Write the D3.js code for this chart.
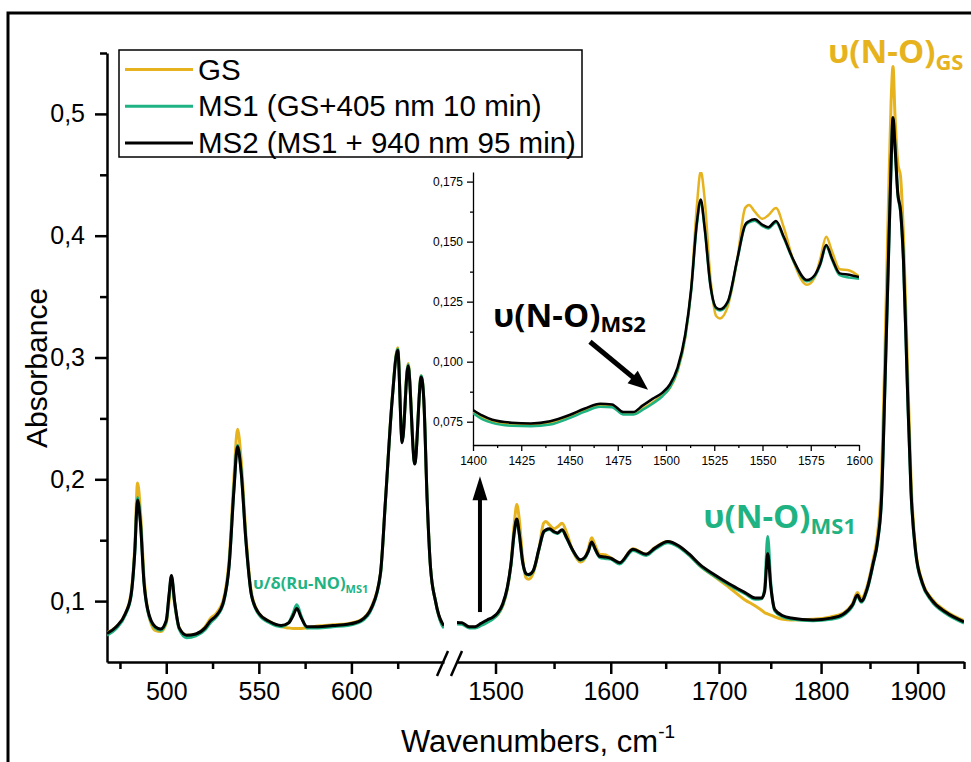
<!DOCTYPE html>
<html>
<head>
<meta charset="utf-8">
<script src="https://cdnjs.cloudflare.com/ajax/libs/d3/7.8.5/d3.min.js"></script>
<style>
  body { margin: 0; background: #fff; }
  text { font-family: "Liberation Sans", Arial, sans-serif; }
  .note { font-family: "Open Sans", sans-serif; font-weight: bold; }
</style>
</head>
<body>
<div id="chart-area"></div>
<script>
let seriesNames = ["GS", "MS1 (GS+405 nm 10 min)", "MS2 (MS1 + 940 nm 95 min)"];
let seriesColors = ["#e6b31e", "#1fb383", "#000000"];

// low wavenumber part, cm-1
let lowWn = [468, 473, 478, 481, 483, 484.5, 486, 488, 490, 494, 497, 500, 501.5, 502.8, 504.5,
  507, 511, 516, 521, 524, 527, 531, 534, 536.5, 538.5, 540.5, 543, 546, 550, 556, 562, 566,
  568.5, 570.5, 573, 576, 582, 590, 598, 605, 611, 615.7, 618.4, 622, 625, 627.4, 630.6, 634.2,
  637.7, 639.1, 640.9, 642.7, 645.4, 649, 650];
let lowGS = [0.074, 0.079, 0.09, 0.107, 0.145, 0.197, 0.175, 0.12, 0.093, 0.076, 0.075, 0.082,
  0.1, 0.118, 0.098, 0.078, 0.072, 0.073, 0.079, 0.086, 0.09, 0.102, 0.135, 0.2, 0.241, 0.215,
  0.155, 0.107, 0.09, 0.083, 0.079, 0.078, 0.0775, 0.0775, 0.0775, 0.078, 0.0795, 0.0805, 0.0815,
  0.0845, 0.096, 0.123, 0.183, 0.266, 0.308, 0.232, 0.295, 0.214, 0.285, 0.265, 0.183, 0.128,
  0.1, 0.081, 0.079];
let lowMS1 = [0.072, 0.0775, 0.089, 0.104, 0.14, 0.185, 0.167, 0.115, 0.092, 0.078, 0.076, 0.083,
  0.104, 0.12, 0.099, 0.077, 0.07, 0.0715, 0.0765, 0.0825, 0.087, 0.099, 0.13, 0.191, 0.228,
  0.206, 0.15, 0.105, 0.089, 0.082, 0.079, 0.082, 0.09, 0.097, 0.087, 0.078, 0.078, 0.079, 0.08,
  0.083, 0.094, 0.122, 0.182, 0.265, 0.307, 0.231, 0.294, 0.213, 0.285, 0.266, 0.184, 0.128,
  0.1, 0.08, 0.078];
let lowMS2 = [0.0735, 0.079, 0.09, 0.105, 0.14, 0.183, 0.165, 0.115, 0.093, 0.079, 0.077, 0.084,
  0.105, 0.121, 0.1, 0.078, 0.072, 0.073, 0.078, 0.084, 0.088, 0.1, 0.13, 0.19, 0.227, 0.205,
  0.15, 0.105, 0.09, 0.083, 0.08, 0.082, 0.088, 0.094, 0.086, 0.079, 0.079, 0.08, 0.081, 0.084,
  0.095, 0.123, 0.183, 0.265, 0.306, 0.23, 0.293, 0.2125, 0.284, 0.265, 0.183, 0.128, 0.1,
  0.082, 0.08];

// high wavenumber part (also used by the inset), cm-1
let highWn = [1400, 1405, 1410, 1420, 1430, 1440, 1450, 1458, 1466, 1472, 1478, 1483, 1488, 1493,
  1498, 1502, 1506, 1510, 1513, 1516, 1518, 1520, 1523, 1526, 1528, 1532, 1537, 1541, 1543, 1546,
  1550, 1553, 1557, 1561, 1566, 1573, 1577, 1580, 1583, 1586, 1590, 1595, 1600, 1608, 1620, 1632,
  1640, 1652, 1662, 1672, 1682, 1695, 1710, 1725, 1735, 1741, 1744, 1747, 1750, 1754, 1762, 1770,
  1792, 1810, 1822, 1832, 1837, 1841, 1847, 1853, 1858, 1862, 1866, 1869, 1872, 1874, 1876, 1879,
  1882, 1885, 1889, 1893, 1898, 1905, 1915, 1930, 1950];
let highGS = [0.079, 0.0768, 0.0752, 0.074, 0.0738, 0.0746, 0.0772, 0.08, 0.082, 0.0817, 0.0785,
  0.0785, 0.0805, 0.083, 0.086, 0.089, 0.096, 0.11, 0.13, 0.165, 0.1793, 0.168, 0.135, 0.119,
  0.118, 0.123, 0.143, 0.164, 0.1653, 0.1625, 0.1595, 0.161, 0.164, 0.156, 0.142, 0.132, 0.135,
  0.143, 0.152, 0.146, 0.1385, 0.138, 0.1355, 0.1315, 0.143, 0.1385, 0.144, 0.149, 0.145, 0.138,
  0.129, 0.1205, 0.111, 0.101, 0.096, 0.0925, 0.0905, 0.0895, 0.0885, 0.087, 0.085, 0.0845,
  0.085, 0.087, 0.09, 0.098, 0.107, 0.102, 0.112, 0.133, 0.156, 0.2, 0.32, 0.42, 0.51, 0.539,
  0.5, 0.46, 0.448, 0.4, 0.3, 0.2, 0.142, 0.116, 0.102, 0.092, 0.084];
let highMS1 = [0.0785, 0.076, 0.0745, 0.0733, 0.0731, 0.0738, 0.0765, 0.0792, 0.0812, 0.081,
  0.078, 0.078, 0.08, 0.0825, 0.0855, 0.0892, 0.0965, 0.1105, 0.129, 0.157, 0.1665, 0.1555,
  0.1315, 0.122, 0.1213, 0.1245, 0.1425, 0.1565, 0.158, 0.1587, 0.1565, 0.1555, 0.158, 0.1515,
  0.142, 0.1335, 0.1355, 0.1405, 0.148, 0.1425, 0.136, 0.135, 0.1345, 0.1305, 0.1415, 0.1375,
  0.1425, 0.148, 0.1445, 0.1375, 0.129, 0.121, 0.113, 0.106, 0.1015, 0.102, 0.11, 0.153, 0.115,
  0.092, 0.087, 0.0852, 0.0838, 0.085, 0.088, 0.096, 0.104, 0.099, 0.109, 0.129, 0.149, 0.184,
  0.288, 0.373, 0.458, 0.496, 0.474, 0.434, 0.419, 0.379, 0.279, 0.189, 0.139, 0.114, 0.1, 0.09,
  0.082];
let highMS2 = [0.0799, 0.0775, 0.0758, 0.0746, 0.0743, 0.0752, 0.0778, 0.0805, 0.0825, 0.0822,
  0.079, 0.079, 0.0818, 0.0845, 0.087, 0.0905, 0.0975, 0.1115, 0.13, 0.158, 0.1675, 0.156, 0.132,
  0.1225, 0.1218, 0.125, 0.143, 0.157, 0.1585, 0.1593, 0.157, 0.156, 0.1586, 0.152, 0.1424,
  0.134, 0.136, 0.141, 0.1486, 0.143, 0.1368, 0.1362, 0.1352, 0.1315, 0.1425, 0.1385, 0.1435,
  0.149, 0.1455, 0.1385, 0.13, 0.122, 0.114, 0.107, 0.1025, 0.1025, 0.108, 0.139, 0.112, 0.093,
  0.088, 0.0862, 0.0845, 0.086, 0.089, 0.097, 0.105, 0.1, 0.11, 0.13, 0.15, 0.185, 0.29, 0.375,
  0.46, 0.497, 0.475, 0.435, 0.42, 0.38, 0.28, 0.19, 0.14, 0.115, 0.101, 0.091, 0.083];

let yTicks = [0.1, 0.2, 0.3, 0.4, 0.5];
let yMinor = [0.15, 0.25, 0.35, 0.45, 0.55];
let lowTicks = [500, 550, 600];
let lowMinor = [475, 525, 575, 625];
let highTicks = [1500, 1600, 1700, 1800, 1900];
let highMinor = [1550, 1650, 1750, 1850, 1950];
let insetXTicks = [1400, 1425, 1450, 1475, 1500, 1525, 1550, 1575, 1600];
let insetYTicks = [0.075, 0.1, 0.125, 0.15, 0.175];

let width = 971, height = 762;

let svg = d3.select("#chart-area")
  .append("svg")
  .attr("width", width)
  .attr("height", height)
  .style("display", "block")
  .style("background", "#fff");

// outer frame (only top and left are visible)
svg.append("path")
  .attr("d", "M8," + height + "V13H" + width)
  .attr("fill", "none")
  .attr("stroke", "#000")
  .attr("stroke-width", 3);

let y = d3.scaleLinear().domain([0.05, 0.55]).range([662, 53]);
let xLow = d3.scaleLinear().domain([468, 650]).range([107, 444]);
let xHigh = d3.scaleLog().domain([1468, 1950]).range([457, 964]);
let xIn = d3.scaleLinear().domain([1400, 1600]).range([473, 859]);
let yIn = d3.scaleLinear().domain([0.0653, 0.179]).range([445, 172]);

let series = seriesNames.map(function(name, i) {
  let lowVals = [lowGS, lowMS1, lowMS2][i];
  let highVals = [highGS, highMS1, highMS2][i];
  return {
    name: name,
    color: seriesColors[i],
    low: lowWn.map(function(w, j) { return [w, lowVals[j]]; }),
    high: highWn.map(function(w, j) { return [w, highVals[j]]; })
  };
});

let comma = function(fmt) {
  return function(d) { return d3.format(fmt)(d).replace(".", ","); };
};

function drawAxis(axis, tx, ty, fontSize, width, minor) {
  let g = svg.append("g")
    .attr("transform", "translate(" + tx + "," + ty + ")")
    .call(axis);
  g.select(".domain").attr("stroke-width", width).style("display", minor ? "none" : null);
  g.selectAll(".tick line").attr("stroke-width", width);
  g.selectAll(".tick text").attr("fill", "#000").style("font-size", fontSize + "px")
    .style("font-family", "'Liberation Sans', Arial, sans-serif");
  return g;
}

// main axes
drawAxis(d3.axisLeft(y).tickValues(yTicks).tickSize(12).tickPadding(10).tickSizeOuter(0)
  .tickFormat(comma(".1f")), 107, 0, 25, 2.5);
drawAxis(d3.axisLeft(y).tickValues(yMinor).tickSize(7).tickFormat(""), 107, 0, 25, 2.5, true);
drawAxis(d3.axisBottom(xLow).tickValues(lowTicks).tickSize(12).tickPadding(8).tickSizeOuter(0),
  0, 662, 25, 2.5);
drawAxis(d3.axisBottom(xLow).tickValues(lowMinor).tickSize(7).tickFormat(""), 0, 662, 25, 2.5, true);
drawAxis(d3.axisBottom(xHigh).tickValues(highTicks).tickSize(12).tickPadding(8).tickSizeOuter(0)
  .tickFormat(d3.format("d")), 0, 662, 25, 2.5);
drawAxis(d3.axisBottom(xHigh).tickValues(highMinor).tickSize(7).tickFormat(""), 0, 662, 25, 2.5, true);

// axis break marks
[0, 14].forEach(function(off) {
  svg.append("line")
    .attr("x1", 437 + off).attr("y1", 676)
    .attr("x2", 448 + off).attr("y2", 651)
    .attr("stroke", "#000")
    .attr("stroke-width", 2.5);
});

// clips
let defs = svg.append("defs");
defs.append("clipPath").attr("id", "clip-low").append("rect")
  .attr("x", 107).attr("y", 53).attr("width", 337).attr("height", 609);
defs.append("clipPath").attr("id", "clip-high").append("rect")
  .attr("x", 457).attr("y", 53).attr("width", 507).attr("height", 609);
defs.append("clipPath").attr("id", "clip-inset").append("rect")
  .attr("x", 473).attr("y", 172).attr("width", 386).attr("height", 273);

let lineLow = d3.line()
  .x(function(d) { return xLow(d[0]); })
  .y(function(d) { return y(d[1]); })
  .curve(d3.curveMonotoneX);
let lineHigh = d3.line()
  .x(function(d) { return xHigh(d[0]); })
  .y(function(d) { return y(d[1]); })
  .curve(d3.curveMonotoneX);
let lineIn = d3.line()
  .x(function(d) { return xIn(d[0]); })
  .y(function(d) { return yIn(d[1]); })
  .curve(d3.curveMonotoneX);

let plot = svg.append("g");
plot.selectAll(".low")
  .data(series)
  .enter()
  .append("path")
  .attr("clip-path", "url(#clip-low)")
  .attr("d", function(d) { return lineLow(d.low); })
  .attr("fill", "none")
  .attr("stroke", function(d) { return d.color; })
  .attr("stroke-width", 3)
  .attr("stroke-linejoin", "round");
plot.selectAll(".high")
  .data(series)
  .enter()
  .append("path")
  .attr("clip-path", "url(#clip-high)")
  .attr("d", function(d) { return lineHigh(d.high.filter(function(p) { return p[0] >= 1460; })); })
  .attr("fill", "none")
  .attr("stroke", function(d) { return d.color; })
  .attr("stroke-width", 3)
  .attr("stroke-linejoin", "round");

// inset
drawAxis(d3.axisLeft(yIn).tickValues(insetYTicks).tickSize(6).tickPadding(4).tickSizeOuter(0)
  .tickFormat(comma(".3f")), 473, 0, 12, 1.3);
drawAxis(d3.axisLeft(yIn).tickValues([0.0875, 0.1125, 0.1375, 0.1625]).tickSize(3).tickFormat(""),
  473, 0, 12, 1.3, true);
drawAxis(d3.axisBottom(xIn).tickValues(insetXTicks).tickSize(6).tickPadding(5).tickSizeOuter(0)
  .tickFormat(d3.format("d")), 0, 445, 12, 1.3);
drawAxis(d3.axisBottom(xIn).tickValues(insetXTicks.slice(1).map(function(d) { return d - 12.5; }))
  .tickSize(3).tickFormat(""), 0, 445, 12, 1.3, true);

svg.append("g").selectAll("path")
  .data(series)
  .enter()
  .append("path")
  .attr("clip-path", "url(#clip-inset)")
  .attr("d", function(d) { return lineIn(d.high.filter(function(p) { return p[0] <= 1600; })); })
  .attr("fill", "none")
  .attr("stroke", function(d) { return d.color; })
  .attr("stroke-width", 2.5)
  .attr("stroke-linejoin", "round");

// arrows
function arrow(x1, y1, x2, y2, w, head, headW) {
  let dx = x2 - x1, dy = y2 - y1, len = Math.hypot(dx, dy);
  let ux = dx / len, uy = dy / len;
  let bx = x2 - ux * head, by = y2 - uy * head;
  svg.append("line")
    .attr("x1", x1).attr("y1", y1)
    .attr("x2", bx + ux).attr("y2", by + uy)
    .attr("stroke", "#000")
    .attr("stroke-width", w);
  svg.append("path")
    .attr("d", "M" + x2 + "," + y2 +
      "L" + (bx - uy * headW / 2) + "," + (by + ux * headW / 2) +
      "L" + (bx + uy * headW / 2) + "," + (by - ux * headW / 2) + "Z")
    .attr("fill", "#000");
}
arrow(xHigh(1487), y(0.091), xHigh(1487), y(0.2026), 4, 24, 15);
arrow(xIn(1460.6), yIn(0.1083), xIn(1490.7), yIn(0.0883), 5, 20, 16);

// annotations
function note(x, yPos, main, sub, color, size, subSize, shift) {
  let t = svg.append("text")
    .attr("class", "note")
    .attr("x", x)
    .attr("y", yPos)
    .attr("fill", color)
    .style("font-size", size + "px")
    .text(main);
  t.append("tspan")
    .attr("dy", shift)
    .style("font-size", subSize + "px")
    .text(sub);
}
note(xHigh(1807), y(0.5417), "\u03c5(N-O)", "GS", seriesColors[0], 33, 22, 7);
note(xHigh(1685), y(0.16), "\u03c5(N-O)", "MS1", seriesColors[1], 33, 22, 6);
note(xIn(1410.4), yIn(0.1145), "\u03c5(N-O)", "MS2", "#000", 33, 22, 5);
note(xLow(546.9), y(0.1099), "\u03c5/\u03b4(Ru-NO)", "MS1", seriesColors[1], 16.5, 11, 4);

// legend
let legend = svg.append("g");
legend.append("rect")
  .attr("x", 119).attr("y", 50)
  .attr("width", 463).attr("height", 107)
  .attr("fill", "#fff")
  .attr("stroke", "#000")
  .attr("stroke-width", 1.5);
let rows = legend.selectAll(".row")
  .data(series)
  .enter()
  .append("g")
  .attr("transform", function(d, i) { return "translate(0," + (69.5 + i * 36.7) + ")"; });
rows.append("line")
  .attr("x1", 125).attr("x2", 193)
  .attr("stroke", function(d) { return d.color; })
  .attr("stroke-width", 3);
rows.append("text")
  .attr("x", 198)
  .attr("y", 10)
  .style("font-size", "29.5px")
  .text(function(d) { return d.name; });

// axis titles
svg.append("text")
  .attr("transform", "translate(47,368) rotate(-90)")
  .attr("text-anchor", "middle")
  .style("font-size", "30px")
  .text("Absorbance");
let xt = svg.append("text")
  .attr("x", 538)
  .attr("y", 752)
  .attr("text-anchor", "middle")
  .style("font-size", "31px")
  .text("Wavenumbers, cm");
xt.append("tspan")
  .attr("dy", -14)
  .style("font-size", "19px")
  .text("-1");
</script>
</body>
</html>
